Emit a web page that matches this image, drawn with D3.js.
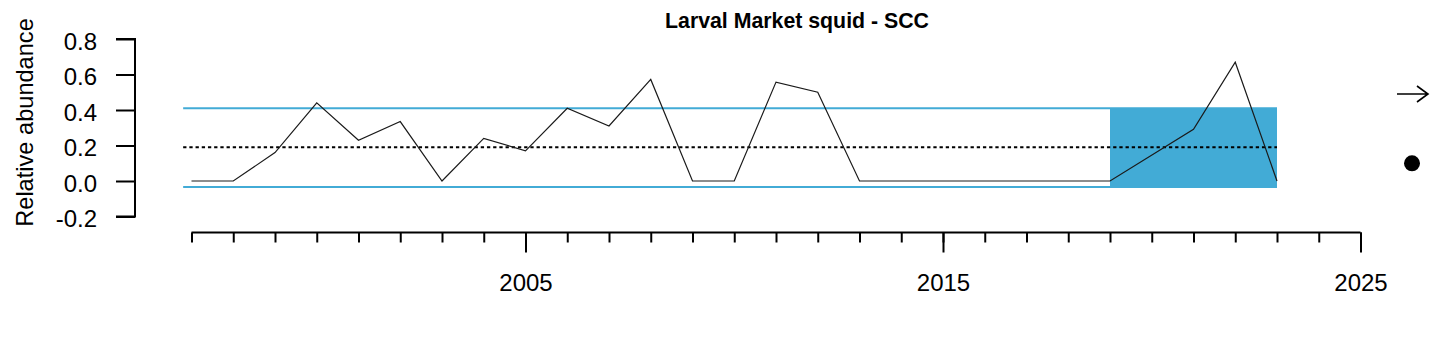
<!DOCTYPE html>
<html>
<head>
<meta charset="utf-8">
<script src="https://cdn.jsdelivr.net/npm/d3@7"></script>
<style>
  html, body { margin: 0; padding: 0; background: #fff; }
  svg { display: block; font-family: "Liberation Sans", Arial, Helvetica, sans-serif; }
</style>
</head>
<body>
<svg id="chart" width="1452" height="348"></svg>
<script>
// ---- data ----
const years  = [1997,1998,1999,2000,2001,2002,2003,2004,2005,2006,2007,2008,2009,2010,2011,2012,2013,2014,2015,2016,2017,2018,2019,2021,2022,2023];
const values = [0,0,0.16,0.44,0.23,0.335,0,0.24,0.17,0.41,0.31,0.572,0,0,0.557,0.50,0,0,0,0,0,0,0,0.291,0.669,0];
const meanValue = 0.19;
const upperSD = 0.41;
const lowerSD = -0.034;
const recentStart = 2019;
const recentEnd = 2023;
const yTicks = [-0.2, 0, 0.2, 0.4, 0.6, 0.8];
const yTickLabels = ["-0.2","0.0","0.2","0.4","0.6","0.8"];
const xMajorTicks = [2005, 2015, 2025];
const xMajorLabels = ["2005","2015","2025"];
const xMinorTicks = d3.range(1997, 2026);
const titleText = "Larval Market squid - SCC";
const yLabelText = "Relative abundance";

// ---- layout ----
const svg = d3.select("#chart");
const blue = "#42ABD6";

const x = d3.scaleLinear().domain([1997, 2025]).range([191.5, 1360.5]);
const y = d3.scaleLinear().domain([-0.2, 0.8]).range([216.5, 39]);

// shaded recent-period box
svg.append("rect")
  .attr("x", x(recentStart))
  .attr("y", y(upperSD))
  .attr("width", x(recentEnd) - x(recentStart))
  .attr("height", y(lowerSD) - y(upperSD))
  .attr("fill", blue);

const lineX0 = x(years[0] - 0.2);
const lineX1 = x(recentEnd);

// SD lines
[upperSD, lowerSD].forEach(v => {
  svg.append("line")
    .attr("x1", lineX0).attr("x2", lineX1)
    .attr("y1", y(v)).attr("y2", y(v))
    .attr("stroke", blue).attr("stroke-width", 2);
});

// mean dashed line
svg.append("line")
  .attr("x1", lineX0).attr("x2", lineX1)
  .attr("y1", y(meanValue)).attr("y2", y(meanValue))
  .attr("stroke", "#000").attr("stroke-width", 2)
  .attr("stroke-dasharray", "3.3,2.9");

// data line
const pts = years.map((yr, i) => [yr, values[i]]);
svg.append("path")
  .datum(pts)
  .attr("fill", "none")
  .attr("stroke", "#1a1a1a")
  .attr("stroke-width", 1.2)
  .attr("d", d3.line().x(d => x(d[0])).y(d => y(d[1])));

// y axis
const yAxis = d3.axisLeft(y)
  .tickValues(yTicks)
  .tickFormat((d, i) => yTickLabels[i])
  .tickSize(19)
  .tickPadding(19);
const gy = svg.append("g").attr("transform", "translate(135,0)").call(yAxis);
gy.select(".domain").attr("d", `M-19,${y(0.8)}H0V${y(-0.2)}H-19`).attr("stroke", "#000").attr("stroke-width", 2).attr("fill", "none");
gy.selectAll(".tick line").attr("stroke", "#000").attr("stroke-width", 2);
gy.selectAll(".tick text")
  .attr("font-size", 24)
  .attr("fill", "#000")
  .attr("font-family", '"Liberation Sans", Arial, sans-serif')
  .attr("dy", "0.42em");

// x axis (minor ticks)
const axisY = 232.5;
const xMinor = d3.axisBottom(x).tickValues(xMinorTicks).tickSize(10).tickFormat("");
const gxm = svg.append("g").attr("transform", `translate(0,${axisY})`).call(xMinor);
gxm.select(".domain").attr("d", `M${x(1997)},0H${x(2025)}`).attr("stroke", "#000").attr("stroke-width", 2);
gxm.selectAll(".tick line").attr("stroke", "#000").attr("stroke-width", 2);

// x axis (major ticks + labels)
const xMajor = d3.axisBottom(x).tickValues(xMajorTicks)
  .tickFormat((d, i) => xMajorLabels[i])
  .tickSize(20).tickPadding(21);
const gxM = svg.append("g").attr("transform", `translate(0,${axisY})`).call(xMajor);
gxM.select(".domain").remove();
gxM.selectAll(".tick line").attr("stroke", "#000").attr("stroke-width", 2);
gxM.selectAll(".tick text")
  .attr("font-size", 24)
  .attr("fill", "#000")
  .attr("font-family", '"Liberation Sans", Arial, sans-serif');

// title
svg.append("text")
  .attr("x", 797).attr("y", 27.5)
  .attr("text-anchor", "middle")
  .attr("font-size", 21.3)
  .attr("font-weight", "bold")
  .attr("fill", "#000")
  .text(titleText);

// y label
svg.append("text")
  .attr("transform", "translate(33,122.5) rotate(-90)")
  .attr("text-anchor", "middle")
  .attr("font-size", 23.6)
  .attr("fill", "#000")
  .text(yLabelText);

// trend arrow and status dot
const ax = 1397, ay = 94, tip = 1428;
svg.append("path")
  .attr("d", `M${ax},${ay}H${tip}M${tip - 11},${ay - 8}L${tip},${ay}L${tip - 11},${ay + 8}`)
  .attr("fill", "none").attr("stroke", "#000").attr("stroke-width", 1.6);
svg.append("circle")
  .attr("cx", 1412).attr("cy", 163.3).attr("r", 8)
  .attr("fill", "#000");
</script>
</body>
</html>
